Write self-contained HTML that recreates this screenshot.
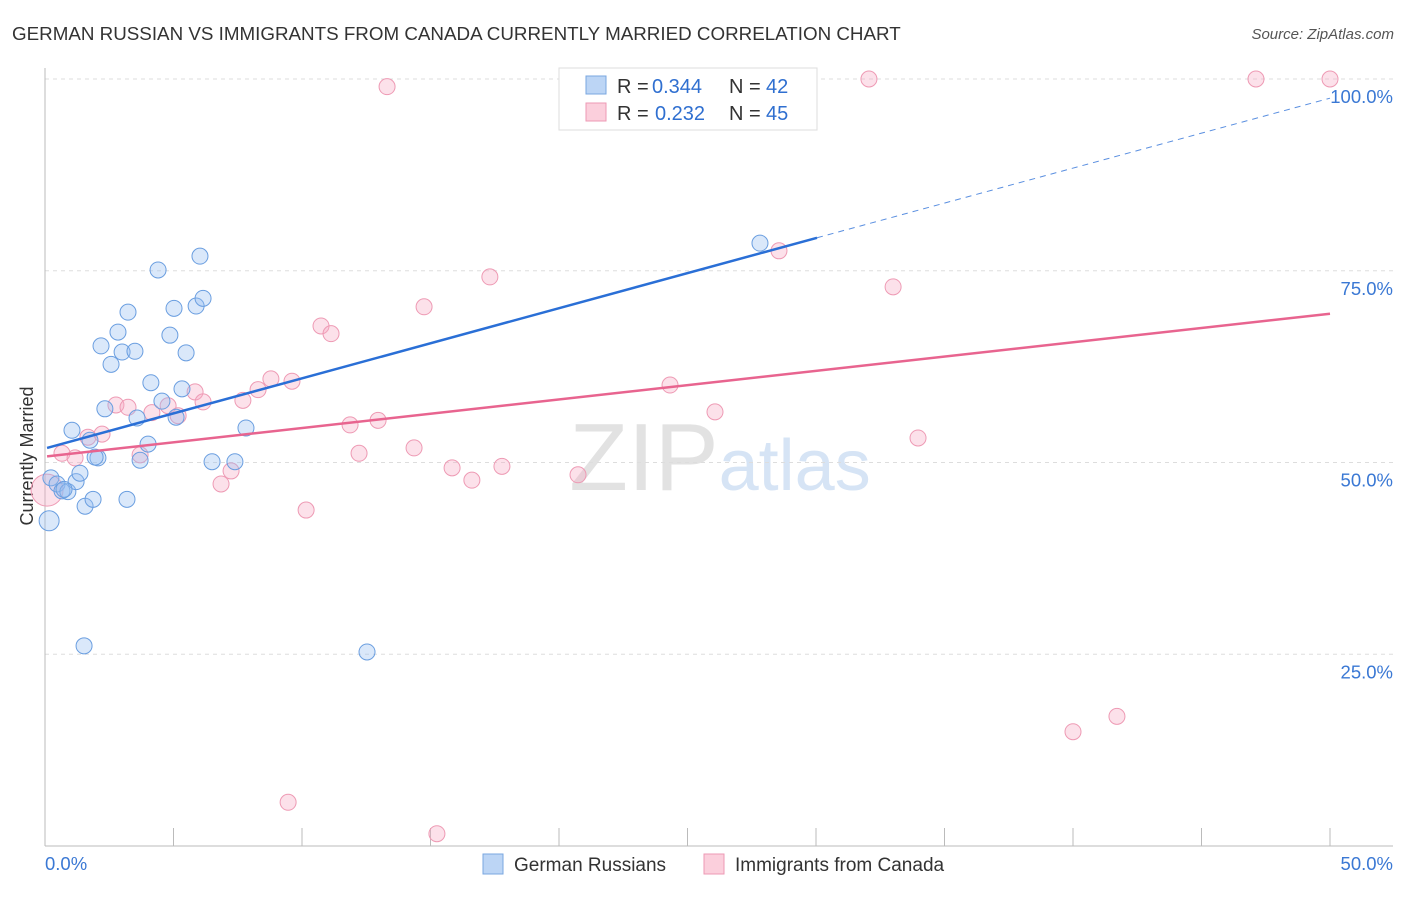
<!DOCTYPE html>
<html><head><meta charset="utf-8"><style>
body{margin:0;background:#fff;font-family:"Liberation Sans",sans-serif;}
svg text{font-family:"Liberation Sans",sans-serif;}
</style></head><body>
<svg id="chart" width="1406" height="892" xmlns="http://www.w3.org/2000/svg">
<text x="12" y="40" font-size="18.8" fill="#333">GERMAN RUSSIAN VS IMMIGRANTS FROM CANADA CURRENTLY MARRIED CORRELATION CHART</text>
<text x="1394" y="39" font-size="15" fill="#555" text-anchor="end" font-style="italic">Source: ZipAtlas.com</text>
<text x="720" y="490" font-size="96" fill="#ddd" text-anchor="middle" font-family="Liberation Serif"><tspan fill="#e2e2e2">ZIP</tspan><tspan fill="#d6e4f5" font-family="Liberation Sans" font-size="72">atlas</tspan></text>
<text transform="translate(33,456) rotate(-90)" font-size="18" fill="#333" text-anchor="middle">Currently Married</text>
<g id="grid"></g><g id="axes"></g><g id="marks"></g>
<g>
<rect x="559" y="68" width="258" height="62" fill="#fff" stroke="#ddd"/>
<rect x="586" y="76" width="20" height="18" fill="#bcd5f5" stroke="#7aa7e0"/>
<rect x="586" y="103" width="20" height="18" fill="#fbcfdc" stroke="#ee9ab4"/>
<text x="617" y="93" font-size="20" fill="#333">R =</text>
<text x="652" y="93" font-size="20" fill="#2f6fd0">0.344</text>
<text x="729" y="93" font-size="20" fill="#333">N =</text>
<text x="766" y="93" font-size="20" fill="#2f6fd0">42</text>
<text x="617" y="120" font-size="20" fill="#333">R =</text>
<text x="655" y="120" font-size="20" fill="#2f6fd0">0.232</text>
<text x="729" y="120" font-size="20" fill="#333">N =</text>
<text x="766" y="120" font-size="20" fill="#2f6fd0">45</text>
</g>
<g>
<rect x="483" y="854" width="20" height="20" fill="#bcd5f5" stroke="#7aa7e0"/>
<text x="514" y="871" font-size="19" fill="#333">German Russians</text>
<rect x="704" y="854" width="20" height="20" fill="#fbcfdc" stroke="#ee9ab4"/>
<text x="735" y="871" font-size="19" fill="#333">Immigrants from Canada</text>
</g>
</svg>
<script>
const blueX=[0.16,0.23,0.47,0.66,0.89,1.05,1.21,1.36,1.56,1.52,1.75,1.87,2.06,2.18,2.33,2.57,2.84,3.00,3.23,3.19,3.50,3.58,3.70,4.01,4.12,4.40,4.55,4.86,5.02,5.10,5.33,5.49,5.88,6.03,6.15,6.50,7.39,7.82,12.53,27.82,0.74,1.95];
const blueY=[42.4,48.0,47.2,46.3,46.2,54.2,47.5,48.6,44.3,26.1,52.9,45.2,50.6,65.2,57.0,62.8,67.0,64.4,69.6,45.2,64.5,55.8,50.3,52.4,60.4,75.1,58.0,66.6,70.1,55.9,59.6,64.3,70.4,76.9,71.4,50.1,50.1,54.5,25.3,78.6,46.5,50.7];
const pinkX=[0.08,0.66,1.17,1.67,2.22,2.76,3.23,3.70,4.16,4.79,5.18,5.84,6.15,6.85,7.24,7.70,8.29,8.79,9.46,9.61,10.16,10.74,11.13,11.87,12.22,12.96,13.31,14.36,14.75,15.25,15.84,16.61,17.31,17.78,20.74,24.32,26.07,28.56,32.06,33.00,33.97,40.00,41.71,47.12,50];
const pinkY=[46.4,51.2,50.6,53.3,53.7,57.5,57.2,51.0,56.5,57.4,56.1,59.2,57.9,47.2,48.9,58.1,59.5,60.9,5.7,60.6,43.8,67.8,66.8,54.9,51.2,55.5,99.0,51.9,70.3,1.6,49.3,47.7,74.2,49.5,48.4,60.1,56.6,77.6,100,72.9,53.2,14.9,16.9,100,100];
const blueTrend=[0.08,51.9,30.04,79.3,50,97.5];
const pinkTrend=[0.08,50.8,50,69.4];
const yTicks=[25,50,75,100];
const yTickLabels=["25.0%","50.0%","75.0%","100.0%"];
const xTicks=[0,5,10,15,20,25,30,35,40,45,50];
const NS="http://www.w3.org/2000/svg";
const sx=v=>45+v*1285/50, sy=v=>846-v*7.67;
function mk(tag,attrs,parent){const e=document.createElementNS(NS,tag);for(const k in attrs)e.setAttribute(k,attrs[k]);document.getElementById(parent).appendChild(e);return e;}
yTicks.forEach((t,i)=>{
 const g=mk('line',{x1:45,x2:1393,y1:sy(t),y2:sy(t),stroke:'#ddd','stroke-dasharray':'4,4'},'grid');
 
 
 const l=mk('text',{x:1393,y:sy(t)+24,'font-size':18.5,fill:'#3a78d4','text-anchor':'end'},'axes');l.textContent=yTickLabels[i];
 
 
});
let a=mk('line',{x1:45,x2:45,y1:68,y2:846,stroke:'#bbb'},'axes');


a=mk('line',{x1:45,x2:1393,y1:846,y2:846,stroke:'#bbb'},'axes');


xTicks.forEach(t=>{const e=mk('line',{x1:sx(t),x2:sx(t),y1:828,y2:846,stroke:'#bbb'},'axes');
 
 });
let t=mk('text',{x:45,y:870,'font-size':18.5,fill:'#3a78d4'},'axes');t.textContent='0.0%';


t=mk('text',{x:1393,y:870,'font-size':18.5,fill:'#3a78d4','text-anchor':'end'},'axes');t.textContent='50.0%';


pinkX.forEach((x,i)=>{const c=mk('circle',{cx:sx(x),cy:sy(pinkY[i]),r:i==0?16:8,fill:'rgba(247,170,195,0.35)',stroke:'#ee9ab4','stroke-width':1},'marks');
 
 });
blueX.forEach((x,i)=>{const c=mk('circle',{cx:sx(x),cy:sy(blueY[i]),r:i==0?10:8,fill:'rgba(150,190,240,0.35)',stroke:'#6a9ee0','stroke-width':1},'marks');
 
 });
let ln=mk('line',{x1:sx(blueTrend[0]),y1:sy(blueTrend[1]),x2:sx(blueTrend[2]),y2:sy(blueTrend[3]),stroke:'#2a6fd6','stroke-width':2.5},'marks');


ln=mk('line',{x1:sx(blueTrend[2]),y1:sy(blueTrend[3]),x2:sx(blueTrend[4]),y2:sy(blueTrend[5]),stroke:'#5a8fe0','stroke-width':1,'stroke-dasharray':'6,5'},'marks');


ln=mk('line',{x1:sx(pinkTrend[0]),y1:sy(pinkTrend[1]),x2:sx(pinkTrend[2]),y2:sy(pinkTrend[3]),stroke:'#e8648f','stroke-width':2.5},'marks');


</script>
</body></html>
